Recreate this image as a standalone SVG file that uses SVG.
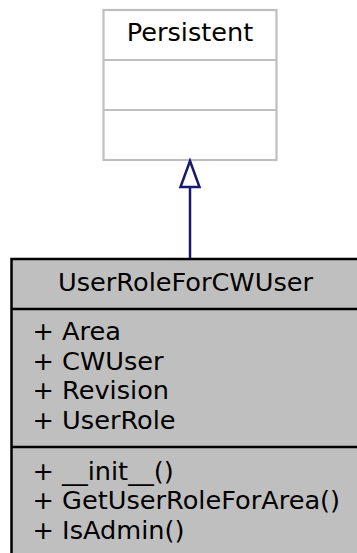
<svg xmlns="http://www.w3.org/2000/svg" width="357" height="553" viewBox="0 0 357 553">
<style>
text{font-family:"DejaVu Sans",sans-serif;font-size:25.6px;fill:#000}
.base{fill:#fff;stroke:#bfbfbf;stroke-width:2.2}
.cls{fill:#bfbfbf;stroke:#000;stroke-width:2.5}
.edge{stroke:#191970;stroke-width:2.5;fill:none}
</style>
<rect width="357" height="553" fill="#fff"/>
<g id="node-persistent">
<rect class="base" x="103.5" y="10" width="173" height="150"/>
<line class="base" x1="103.5" y1="60" x2="276.5" y2="60"/>
<line class="base" x1="103.5" y1="110" x2="276.5" y2="110"/>
<text x="190" y="41" text-anchor="middle">Persistent</text>
</g>
<g id="node-userroleforcwuser">
<rect class="cls" x="11.5" y="259" width="370" height="320"/>
<line class="cls" x1="11.5" y1="309" x2="381.5" y2="309"/>
<line class="cls" x1="11.5" y1="447" x2="381.5" y2="447"/>
<text x="185.5" y="291" text-anchor="middle">UserRoleForCWUser</text>
<text x="32.5" y="340">+ Area</text>
<text x="32.5" y="370">+ CWUser</text>
<text x="32.5" y="399.3">+ Revision</text>
<text x="32.5" y="428.5">+ UserRole</text>
<text x="32.5" y="480">+ __init__()</text>
<text x="32.5" y="509.3">+ GetUserRoleForArea()</text>
<text x="32.5" y="538.5">+ IsAdmin()</text>
</g>
<g id="connectors">
<line class="edge" x1="190" y1="187" x2="190" y2="258"/>
<polygon class="edge" points="190,161 180.5,187 199.5,187" fill="#fff"/>
</g>
</svg>
